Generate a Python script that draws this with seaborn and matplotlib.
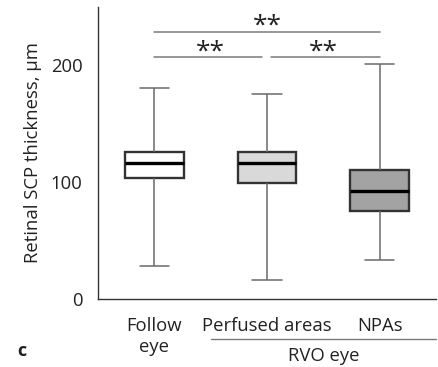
import matplotlib
matplotlib.use("Agg")
import matplotlib.pyplot as plt
import seaborn as sns
import pandas as pd

categories = ["Follow\neye", "Perfused areas", "NPAs"]
mins = [28.5, 16.5, 33.3]
q1s = [104.0, 99.7, 75.0]
medians = [116.8, 116.8, 92.6]
q3s = [125.9, 125.9, 110.8]
maxs = [180.6, 175.8, 201.4]
box_colors = ["#ffffff", "#d9d9d9", "#a3a3a3"]

sns.set_style("white")
plt.rcParams["font.family"] = ["Open Sans", "DejaVu Sans"]

rows = []
for c, a, b, m, d, e in zip(categories, mins, q1s, medians, q3s, maxs):
    for v in (a, b, m, d, e):
        rows.append({"group": c, "value": v})
df = pd.DataFrame(rows)

fig = plt.figure(figsize=(4.38, 3.67), dpi=100)
ax = fig.add_axes([0.2237, 0.1853, 0.7717, 0.7957])

sns.boxplot(data=df, x="group", y="value", hue="group", palette=box_colors,
            order=categories, whis=(0, 100), width=0.52, legend=False, ax=ax,
            linewidth=1.2,
            boxprops=dict(edgecolor="#333333", linewidth=1.7),
            medianprops=dict(color="black", linewidth=2.4),
            whiskerprops=dict(color="#6a6a6a", linewidth=1.1),
            capprops=dict(color="#6a6a6a", linewidth=1.1),
            capwidths=0.26)

ax.set_xlim(-0.5, 2.5)
ax.set_ylim(0, 250)
sns.despine(ax=ax)
for s in ("left", "bottom"):
    ax.spines[s].set_color("#333333")
    ax.spines[s].set_linewidth(1.0)

fs = 13.3
ax.set_yticks([0, 100, 200])
ax.set_yticks([50, 150], minor=True)
ax.set_xticks([0, 1, 2])
ax.set_xticklabels(categories, linespacing=1.2)
ax.set_xticks([0.5, 1.5, 2.5], minor=True)
ax.tick_params(axis="x", which="major", length=0, labelsize=fs, pad=13, colors="#222222")
ax.tick_params(axis="x", which="minor", length=5, width=1, color="#555555")
ax.tick_params(axis="y", which="major", length=8, width=1, labelsize=fs, pad=3, color="#333333", labelcolor="#222222")
ax.tick_params(axis="y", which="minor", length=5, width=1, color="#555555")
ax.set_xlabel("")
ax.set_ylabel("Retinal SCP thickness, µm", fontsize=fs, color="#222222", labelpad=6)

# significance brackets
line_kw = dict(color="#7a7a7a", linewidth=1.1, clip_on=False)
ax.plot([0.0, 2.0], [229, 229], **line_kw)
ax.plot([0.0, 0.96], [207, 207], **line_kw)
ax.plot([1.04, 2.0], [207, 207], **line_kw)
star_kw = dict(ha="center", va="center", fontsize=19, color="#222222")
ax.text(1.0, 233.5, "**", **star_kw)
ax.text(0.5, 211.5, "**", **star_kw)
ax.text(1.5, 211.5, "**", **star_kw)

# RVO eye grouping
ax.plot([0.5, 2.5], [-34.5, -34.5], color="#7a7a7a", linewidth=1.0, clip_on=False)
ax.text(1.5, -41, "RVO eye", ha="center", va="top", fontsize=fs, color="#222222")

fig.text(0.04, 0.03, "c", fontsize=13, fontweight="bold", color="#222222")

fig.savefig("out.png", dpi=100)
